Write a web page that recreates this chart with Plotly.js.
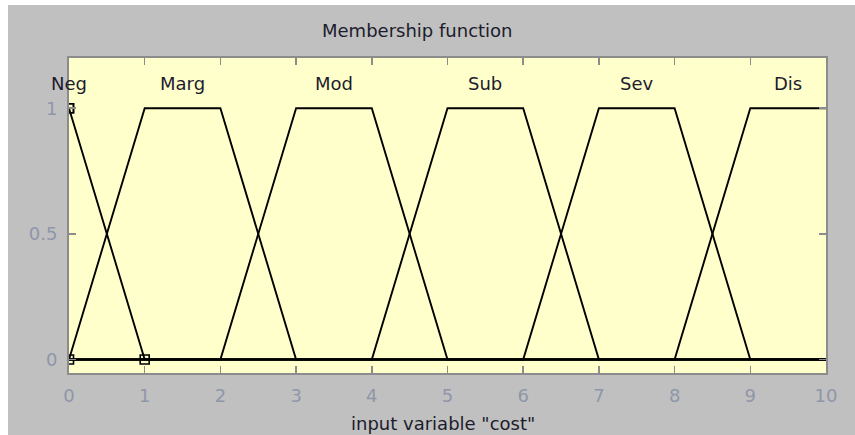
<!DOCTYPE html>
<html>
<head>
<meta charset="utf-8">
<script src="https://cdn.plot.ly/plotly-3.0.1.min.js"></script>
<style>
  html, body { margin: 0; padding: 0; background: #ffffff; }
  #wrap { position: relative; width: 855px; height: 435px; overflow: hidden; }
  #panel { position: absolute; left: 8px; top: 5px; width: 847px; height: 430px; background: #c0c0c0; }
  #chart { position: absolute; left: 0; top: 0; width: 855px; height: 435px; }
</style>
</head>
<body>
<div id="wrap">
  <div id="panel"></div>
  <div id="chart"></div>
</div>
<script>
// Membership functions of the input variable "cost" (trapezoid parameters a, b, c, d)
const mfNames = ['Neg', 'Marg', 'Mod', 'Sub', 'Sev', 'Dis'];
const mfA = [0, 0, 2, 4, 6, 8];
const mfB = [0, 1, 3, 5, 7, 9];
const mfC = [0, 2, 4, 6, 8, 10];
const mfD = [1, 3, 5, 7, 9, 10];
const labelX = [0, 1.5, 3.5, 5.5, 7.5, 9.5];
const labelY = 1.1;
const xRange = [0, 10];
const xTicks = [0, 1, 2, 3, 4, 5, 6, 7, 8, 9, 10];
const yTicks = [0, 0.5, 1];
const yTickText = ['0', '0.5', '1'];
const selectedMf = 0;

function trapmf(x, a, b, c, d) {
  if (x < a || x > d) return 0;
  if (x < b) return (x - a) / (b - a);
  if (x <= c) return 1;
  return (d - x) / (d - c);
}

const FONT = 'DejaVu Sans, Verdana, sans-serif';
const traces = [];

mfNames.forEach((name, i) => {
  const pts = [xRange[0], mfA[i], mfB[i], mfC[i], mfD[i], xRange[1]]
    .filter(v => v >= xRange[0] && v <= xRange[1]);
  const xs = Array.from(new Set(pts)).sort((p, q) => p - q);
  const ys = xs.map(v => trapmf(v, mfA[i], mfB[i], mfC[i], mfD[i]));
  traces.push({
    type: 'scatter', mode: 'lines', x: xs, y: ys, name: name,
    line: { color: '#000000', width: 1.9 }, hoverinfo: 'skip', showlegend: false
  });
});

// handles on the selected membership function
{
  const i = selectedMf;
  traces.push({
    type: 'scatter', mode: 'markers',
    x: [mfA[i], mfB[i], mfC[i], mfD[i]],
    y: [0, 1, 1, 0],
    marker: { symbol: 'square-open', size: 9, color: '#000000', line: { width: 1.6, color: '#000000' } },
    cliponaxis: true, hoverinfo: 'skip', showlegend: false
  });
}

const annotations = mfNames.map((name, i) => ({
  x: labelX[i], y: labelY, xref: 'x', yref: 'y', text: name, showarrow: false,
  xanchor: 'center', yanchor: 'middle',
  font: { family: FONT, size: 18, color: '#1c1c2c' }
}));

annotations.push({
  x: 0.461, y: 1.086, xref: 'paper', yref: 'paper', text: 'Membership function',
  showarrow: false, xanchor: 'center', yanchor: 'middle',
  font: { family: FONT, size: 18, color: '#1c1c2c' }
});
annotations.push({
  x: 0.494, y: -0.159, xref: 'paper', yref: 'paper', text: 'input variable "cost"',
  showarrow: false, xanchor: 'center', yanchor: 'middle',
  font: { family: FONT, size: 18, color: '#1c1c2c' }
});

const axisCommon = {
  showgrid: false, zeroline: false, showline: true, linecolor: '#8c8c8c', linewidth: 2,
  mirror: 'ticks', ticks: 'inside', ticklen: 7, tickwidth: 1.5, tickcolor: '#8c8c8c',
  tickfont: { family: FONT, size: 18, color: '#8f96aa' }, fixedrange: true
};

const layout = {
  width: 855, height: 435,
  margin: { l: 69, r: 29, t: 58, b: 62, pad: 0 },
  paper_bgcolor: 'rgba(0,0,0,0)',
  plot_bgcolor: '#ffffcc',
  showlegend: false,
  xaxis: Object.assign({}, axisCommon, {
    range: xRange, tickmode: 'array', tickvals: xTicks,
    ticktext: xTicks.map(String), ticklabelstandoff: 5
  }),
  yaxis: Object.assign({}, axisCommon, {
    range: [-0.054, 1.2], tickmode: 'array', tickvals: yTicks,
    ticktext: yTickText, ticklabelstandoff: 6
  }),
  annotations: annotations
};

Plotly.newPlot('chart', traces, layout, { displayModeBar: false, staticPlot: true });
</script>
</body>
</html>
